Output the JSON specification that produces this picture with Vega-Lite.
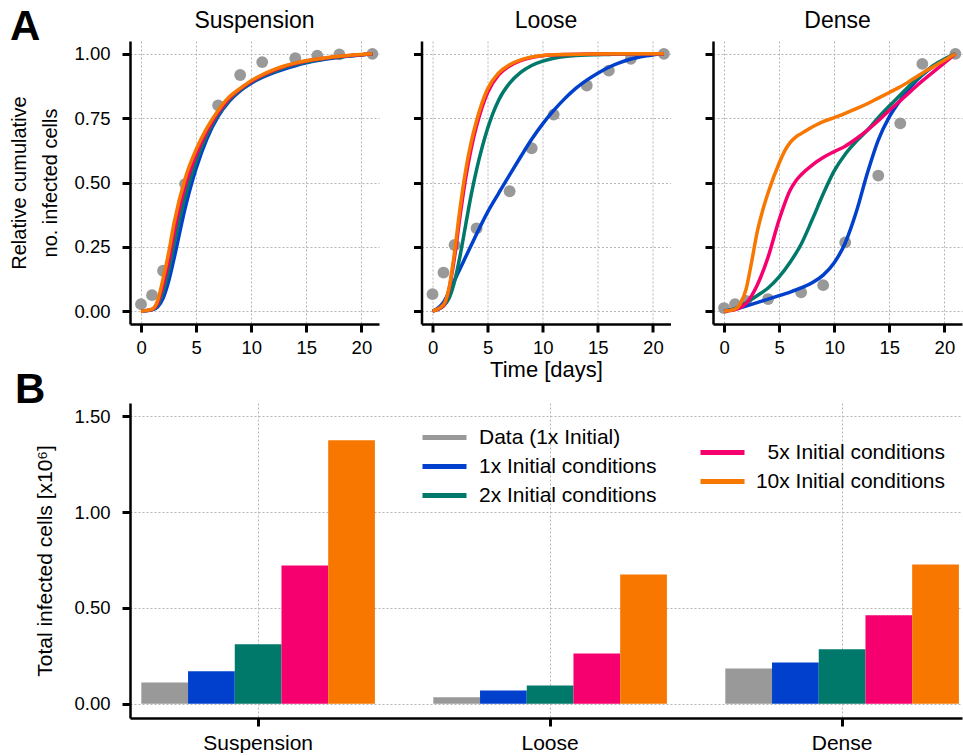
{
  "$schema": "https://vega.github.io/schema/vega-lite/v6.json",
  "padding": {"left": 9, "top": 6, "right": 0, "bottom": 0},
  "background": "white",
  "title": {"text": "A", "anchor": "start", "frame": "bounds", "fontSize": 42, "fontWeight": "bold", "baseline": "alphabetic", "offset": -72, "dx": 0},
  "spacing": -12,
  "resolve": {"scale": {"color": "independent"}, "legend": {"color": "independent"}},
  "datasets": {
    "points": [
      {"condition": "Suspension", "day": 0, "value": 0.027}, {"condition": "Suspension", "day": 1, "value": 0.062}, {"condition": "Suspension", "day": 2, "value": 0.157}, {"condition": "Suspension", "day": 4, "value": 0.494}, {"condition": "Suspension", "day": 7, "value": 0.8}, {"condition": "Suspension", "day": 9, "value": 0.918}, {"condition": "Suspension", "day": 11, "value": 0.968}, {"condition": "Suspension", "day": 14, "value": 0.983}, {"condition": "Suspension", "day": 16, "value": 0.993}, {"condition": "Suspension", "day": 18, "value": 0.998}, {"condition": "Suspension", "day": 21, "value": 1.0},
      {"condition": "Loose", "day": 0, "value": 0.066}, {"condition": "Loose", "day": 1, "value": 0.15}, {"condition": "Loose", "day": 2, "value": 0.257}, {"condition": "Loose", "day": 4, "value": 0.322}, {"condition": "Loose", "day": 7, "value": 0.466}, {"condition": "Loose", "day": 9, "value": 0.633}, {"condition": "Loose", "day": 11, "value": 0.764}, {"condition": "Loose", "day": 14, "value": 0.877}, {"condition": "Loose", "day": 16, "value": 0.935}, {"condition": "Loose", "day": 18, "value": 0.981}, {"condition": "Loose", "day": 21, "value": 1.0},
      {"condition": "Dense", "day": 0, "value": 0.012}, {"condition": "Dense", "day": 1, "value": 0.027}, {"condition": "Dense", "day": 2, "value": 0.04}, {"condition": "Dense", "day": 4, "value": 0.047}, {"condition": "Dense", "day": 7, "value": 0.073}, {"condition": "Dense", "day": 9, "value": 0.101}, {"condition": "Dense", "day": 11, "value": 0.267}, {"condition": "Dense", "day": 14, "value": 0.527}, {"condition": "Dense", "day": 16, "value": 0.73}, {"condition": "Dense", "day": 18, "value": 0.961}, {"condition": "Dense", "day": 21, "value": 1.0}
    ],
    "curves": [
      {"condition": "Suspension", "series": "1x", "day": 0, "value": 0}, {"condition": "Suspension", "series": "1x", "day": 1, "value": 0.005}, {"condition": "Suspension", "series": "1x", "day": 1.5, "value": 0.016}, {"condition": "Suspension", "series": "1x", "day": 2, "value": 0.05}, {"condition": "Suspension", "series": "1x", "day": 2.5, "value": 0.115}, {"condition": "Suspension", "series": "1x", "day": 3, "value": 0.205}, {"condition": "Suspension", "series": "1x", "day": 4, "value": 0.4}, {"condition": "Suspension", "series": "1x", "day": 5, "value": 0.555}, {"condition": "Suspension", "series": "1x", "day": 6, "value": 0.672}, {"condition": "Suspension", "series": "1x", "day": 7, "value": 0.757}, {"condition": "Suspension", "series": "1x", "day": 8, "value": 0.815}, {"condition": "Suspension", "series": "1x", "day": 9, "value": 0.856}, {"condition": "Suspension", "series": "1x", "day": 10, "value": 0.886}, {"condition": "Suspension", "series": "1x", "day": 11, "value": 0.908}, {"condition": "Suspension", "series": "1x", "day": 12, "value": 0.926}, {"condition": "Suspension", "series": "1x", "day": 13, "value": 0.941}, {"condition": "Suspension", "series": "1x", "day": 14, "value": 0.954}, {"condition": "Suspension", "series": "1x", "day": 15, "value": 0.965}, {"condition": "Suspension", "series": "1x", "day": 16, "value": 0.974}, {"condition": "Suspension", "series": "1x", "day": 17, "value": 0.981}, {"condition": "Suspension", "series": "1x", "day": 18, "value": 0.987}, {"condition": "Suspension", "series": "1x", "day": 19, "value": 0.992}, {"condition": "Suspension", "series": "1x", "day": 20, "value": 0.996}, {"condition": "Suspension", "series": "1x", "day": 21, "value": 1},
      {"condition": "Suspension", "series": "2x", "day": 0, "value": 0}, {"condition": "Suspension", "series": "2x", "day": 1, "value": 0.006}, {"condition": "Suspension", "series": "2x", "day": 1.5, "value": 0.022}, {"condition": "Suspension", "series": "2x", "day": 2, "value": 0.075}, {"condition": "Suspension", "series": "2x", "day": 2.5, "value": 0.155}, {"condition": "Suspension", "series": "2x", "day": 3, "value": 0.26}, {"condition": "Suspension", "series": "2x", "day": 4, "value": 0.445}, {"condition": "Suspension", "series": "2x", "day": 5, "value": 0.583}, {"condition": "Suspension", "series": "2x", "day": 6, "value": 0.686}, {"condition": "Suspension", "series": "2x", "day": 7, "value": 0.764}, {"condition": "Suspension", "series": "2x", "day": 8, "value": 0.82}, {"condition": "Suspension", "series": "2x", "day": 9, "value": 0.86}, {"condition": "Suspension", "series": "2x", "day": 10, "value": 0.89}, {"condition": "Suspension", "series": "2x", "day": 11, "value": 0.912}, {"condition": "Suspension", "series": "2x", "day": 12, "value": 0.93}, {"condition": "Suspension", "series": "2x", "day": 13, "value": 0.946}, {"condition": "Suspension", "series": "2x", "day": 14, "value": 0.958}, {"condition": "Suspension", "series": "2x", "day": 15, "value": 0.968}, {"condition": "Suspension", "series": "2x", "day": 16, "value": 0.976}, {"condition": "Suspension", "series": "2x", "day": 17, "value": 0.983}, {"condition": "Suspension", "series": "2x", "day": 18, "value": 0.988}, {"condition": "Suspension", "series": "2x", "day": 19, "value": 0.993}, {"condition": "Suspension", "series": "2x", "day": 20, "value": 0.997}, {"condition": "Suspension", "series": "2x", "day": 21, "value": 1},
      {"condition": "Suspension", "series": "5x", "day": 0, "value": 0}, {"condition": "Suspension", "series": "5x", "day": 1, "value": 0.007}, {"condition": "Suspension", "series": "5x", "day": 1.5, "value": 0.03}, {"condition": "Suspension", "series": "5x", "day": 2, "value": 0.1}, {"condition": "Suspension", "series": "5x", "day": 2.5, "value": 0.19}, {"condition": "Suspension", "series": "5x", "day": 3, "value": 0.305}, {"condition": "Suspension", "series": "5x", "day": 4, "value": 0.485}, {"condition": "Suspension", "series": "5x", "day": 5, "value": 0.607}, {"condition": "Suspension", "series": "5x", "day": 6, "value": 0.7}, {"condition": "Suspension", "series": "5x", "day": 7, "value": 0.772}, {"condition": "Suspension", "series": "5x", "day": 8, "value": 0.826}, {"condition": "Suspension", "series": "5x", "day": 9, "value": 0.864}, {"condition": "Suspension", "series": "5x", "day": 10, "value": 0.893}, {"condition": "Suspension", "series": "5x", "day": 11, "value": 0.916}, {"condition": "Suspension", "series": "5x", "day": 12, "value": 0.935}, {"condition": "Suspension", "series": "5x", "day": 13, "value": 0.951}, {"condition": "Suspension", "series": "5x", "day": 14, "value": 0.962}, {"condition": "Suspension", "series": "5x", "day": 15, "value": 0.972}, {"condition": "Suspension", "series": "5x", "day": 16, "value": 0.979}, {"condition": "Suspension", "series": "5x", "day": 17, "value": 0.985}, {"condition": "Suspension", "series": "5x", "day": 18, "value": 0.99}, {"condition": "Suspension", "series": "5x", "day": 19, "value": 0.994}, {"condition": "Suspension", "series": "5x", "day": 20, "value": 0.997}, {"condition": "Suspension", "series": "5x", "day": 21, "value": 1},
      {"condition": "Suspension", "series": "10x", "day": 0, "value": 0}, {"condition": "Suspension", "series": "10x", "day": 1, "value": 0.008}, {"condition": "Suspension", "series": "10x", "day": 1.5, "value": 0.04}, {"condition": "Suspension", "series": "10x", "day": 2, "value": 0.125}, {"condition": "Suspension", "series": "10x", "day": 2.5, "value": 0.225}, {"condition": "Suspension", "series": "10x", "day": 3, "value": 0.343}, {"condition": "Suspension", "series": "10x", "day": 4, "value": 0.515}, {"condition": "Suspension", "series": "10x", "day": 5, "value": 0.628}, {"condition": "Suspension", "series": "10x", "day": 6, "value": 0.713}, {"condition": "Suspension", "series": "10x", "day": 7, "value": 0.78}, {"condition": "Suspension", "series": "10x", "day": 8, "value": 0.832}, {"condition": "Suspension", "series": "10x", "day": 9, "value": 0.866}, {"condition": "Suspension", "series": "10x", "day": 10, "value": 0.896}, {"condition": "Suspension", "series": "10x", "day": 11, "value": 0.919}, {"condition": "Suspension", "series": "10x", "day": 12, "value": 0.938}, {"condition": "Suspension", "series": "10x", "day": 13, "value": 0.953}, {"condition": "Suspension", "series": "10x", "day": 14, "value": 0.964}, {"condition": "Suspension", "series": "10x", "day": 15, "value": 0.973}, {"condition": "Suspension", "series": "10x", "day": 16, "value": 0.98}, {"condition": "Suspension", "series": "10x", "day": 17, "value": 0.986}, {"condition": "Suspension", "series": "10x", "day": 18, "value": 0.991}, {"condition": "Suspension", "series": "10x", "day": 19, "value": 0.995}, {"condition": "Suspension", "series": "10x", "day": 20, "value": 0.998}, {"condition": "Suspension", "series": "10x", "day": 21, "value": 1},
      {"condition": "Loose", "series": "1x", "day": 0, "value": 0}, {"condition": "Loose", "series": "1x", "day": 1, "value": 0.035}, {"condition": "Loose", "series": "1x", "day": 1.5, "value": 0.075}, {"condition": "Loose", "series": "1x", "day": 2, "value": 0.12}, {"condition": "Loose", "series": "1x", "day": 2.5, "value": 0.165}, {"condition": "Loose", "series": "1x", "day": 3, "value": 0.21}, {"condition": "Loose", "series": "1x", "day": 3.5, "value": 0.255}, {"condition": "Loose", "series": "1x", "day": 4, "value": 0.3}, {"condition": "Loose", "series": "1x", "day": 5, "value": 0.385}, {"condition": "Loose", "series": "1x", "day": 6, "value": 0.458}, {"condition": "Loose", "series": "1x", "day": 7, "value": 0.53}, {"condition": "Loose", "series": "1x", "day": 8, "value": 0.6}, {"condition": "Loose", "series": "1x", "day": 9, "value": 0.668}, {"condition": "Loose", "series": "1x", "day": 10, "value": 0.728}, {"condition": "Loose", "series": "1x", "day": 11, "value": 0.78}, {"condition": "Loose", "series": "1x", "day": 12, "value": 0.826}, {"condition": "Loose", "series": "1x", "day": 13, "value": 0.866}, {"condition": "Loose", "series": "1x", "day": 14, "value": 0.898}, {"condition": "Loose", "series": "1x", "day": 15, "value": 0.925}, {"condition": "Loose", "series": "1x", "day": 16, "value": 0.948}, {"condition": "Loose", "series": "1x", "day": 17, "value": 0.966}, {"condition": "Loose", "series": "1x", "day": 18, "value": 0.98}, {"condition": "Loose", "series": "1x", "day": 19, "value": 0.99}, {"condition": "Loose", "series": "1x", "day": 20, "value": 0.996}, {"condition": "Loose", "series": "1x", "day": 21, "value": 1},
      {"condition": "Loose", "series": "2x", "day": 0, "value": 0}, {"condition": "Loose", "series": "2x", "day": 1, "value": 0.02}, {"condition": "Loose", "series": "2x", "day": 1.5, "value": 0.05}, {"condition": "Loose", "series": "2x", "day": 2, "value": 0.115}, {"condition": "Loose", "series": "2x", "day": 2.5, "value": 0.215}, {"condition": "Loose", "series": "2x", "day": 3, "value": 0.333}, {"condition": "Loose", "series": "2x", "day": 3.5, "value": 0.45}, {"condition": "Loose", "series": "2x", "day": 4, "value": 0.55}, {"condition": "Loose", "series": "2x", "day": 5, "value": 0.71}, {"condition": "Loose", "series": "2x", "day": 6, "value": 0.82}, {"condition": "Loose", "series": "2x", "day": 7, "value": 0.886}, {"condition": "Loose", "series": "2x", "day": 8, "value": 0.928}, {"condition": "Loose", "series": "2x", "day": 9, "value": 0.955}, {"condition": "Loose", "series": "2x", "day": 10, "value": 0.972}, {"condition": "Loose", "series": "2x", "day": 11, "value": 0.983}, {"condition": "Loose", "series": "2x", "day": 12, "value": 0.99}, {"condition": "Loose", "series": "2x", "day": 13, "value": 0.994}, {"condition": "Loose", "series": "2x", "day": 14, "value": 0.996}, {"condition": "Loose", "series": "2x", "day": 15, "value": 0.997}, {"condition": "Loose", "series": "2x", "day": 16, "value": 0.998}, {"condition": "Loose", "series": "2x", "day": 17, "value": 0.999}, {"condition": "Loose", "series": "2x", "day": 18, "value": 0.999}, {"condition": "Loose", "series": "2x", "day": 19, "value": 1}, {"condition": "Loose", "series": "2x", "day": 20, "value": 1}, {"condition": "Loose", "series": "2x", "day": 21, "value": 1},
      {"condition": "Loose", "series": "5x", "day": 0, "value": 0}, {"condition": "Loose", "series": "5x", "day": 1, "value": 0.022}, {"condition": "Loose", "series": "5x", "day": 1.5, "value": 0.085}, {"condition": "Loose", "series": "5x", "day": 2, "value": 0.21}, {"condition": "Loose", "series": "5x", "day": 2.5, "value": 0.37}, {"condition": "Loose", "series": "5x", "day": 3, "value": 0.515}, {"condition": "Loose", "series": "5x", "day": 3.5, "value": 0.63}, {"condition": "Loose", "series": "5x", "day": 4, "value": 0.72}, {"condition": "Loose", "series": "5x", "day": 5, "value": 0.85}, {"condition": "Loose", "series": "5x", "day": 6, "value": 0.918}, {"condition": "Loose", "series": "5x", "day": 7, "value": 0.953}, {"condition": "Loose", "series": "5x", "day": 8, "value": 0.974}, {"condition": "Loose", "series": "5x", "day": 9, "value": 0.986}, {"condition": "Loose", "series": "5x", "day": 10, "value": 0.993}, {"condition": "Loose", "series": "5x", "day": 11, "value": 0.996}, {"condition": "Loose", "series": "5x", "day": 12, "value": 0.998}, {"condition": "Loose", "series": "5x", "day": 14, "value": 0.999}, {"condition": "Loose", "series": "5x", "day": 17, "value": 1}, {"condition": "Loose", "series": "5x", "day": 21, "value": 1},
      {"condition": "Loose", "series": "10x", "day": 0, "value": 0}, {"condition": "Loose", "series": "10x", "day": 1, "value": 0.025}, {"condition": "Loose", "series": "10x", "day": 1.5, "value": 0.09}, {"condition": "Loose", "series": "10x", "day": 2, "value": 0.23}, {"condition": "Loose", "series": "10x", "day": 2.5, "value": 0.4}, {"condition": "Loose", "series": "10x", "day": 3, "value": 0.545}, {"condition": "Loose", "series": "10x", "day": 3.5, "value": 0.655}, {"condition": "Loose", "series": "10x", "day": 4, "value": 0.74}, {"condition": "Loose", "series": "10x", "day": 5, "value": 0.864}, {"condition": "Loose", "series": "10x", "day": 6, "value": 0.926}, {"condition": "Loose", "series": "10x", "day": 7, "value": 0.958}, {"condition": "Loose", "series": "10x", "day": 8, "value": 0.977}, {"condition": "Loose", "series": "10x", "day": 9, "value": 0.988}, {"condition": "Loose", "series": "10x", "day": 10, "value": 0.994}, {"condition": "Loose", "series": "10x", "day": 11, "value": 0.997}, {"condition": "Loose", "series": "10x", "day": 12, "value": 0.998}, {"condition": "Loose", "series": "10x", "day": 14, "value": 0.999}, {"condition": "Loose", "series": "10x", "day": 17, "value": 1}, {"condition": "Loose", "series": "10x", "day": 21, "value": 1},
      {"condition": "Dense", "series": "1x", "day": 0, "value": 0}, {"condition": "Dense", "series": "1x", "day": 1, "value": 0.008}, {"condition": "Dense", "series": "1x", "day": 2, "value": 0.02}, {"condition": "Dense", "series": "1x", "day": 3, "value": 0.033}, {"condition": "Dense", "series": "1x", "day": 4, "value": 0.047}, {"condition": "Dense", "series": "1x", "day": 5, "value": 0.06}, {"condition": "Dense", "series": "1x", "day": 6, "value": 0.074}, {"condition": "Dense", "series": "1x", "day": 7, "value": 0.09}, {"condition": "Dense", "series": "1x", "day": 8, "value": 0.11}, {"condition": "Dense", "series": "1x", "day": 9, "value": 0.14}, {"condition": "Dense", "series": "1x", "day": 10, "value": 0.188}, {"condition": "Dense", "series": "1x", "day": 11, "value": 0.265}, {"condition": "Dense", "series": "1x", "day": 12, "value": 0.385}, {"condition": "Dense", "series": "1x", "day": 13, "value": 0.535}, {"condition": "Dense", "series": "1x", "day": 14, "value": 0.665}, {"condition": "Dense", "series": "1x", "day": 15, "value": 0.755}, {"condition": "Dense", "series": "1x", "day": 16, "value": 0.82}, {"condition": "Dense", "series": "1x", "day": 17, "value": 0.875}, {"condition": "Dense", "series": "1x", "day": 18, "value": 0.918}, {"condition": "Dense", "series": "1x", "day": 19, "value": 0.952}, {"condition": "Dense", "series": "1x", "day": 20, "value": 0.978}, {"condition": "Dense", "series": "1x", "day": 21, "value": 1},
      {"condition": "Dense", "series": "2x", "day": 0, "value": 0}, {"condition": "Dense", "series": "2x", "day": 1, "value": 0.01}, {"condition": "Dense", "series": "2x", "day": 2, "value": 0.033}, {"condition": "Dense", "series": "2x", "day": 3, "value": 0.06}, {"condition": "Dense", "series": "2x", "day": 4, "value": 0.09}, {"condition": "Dense", "series": "2x", "day": 5, "value": 0.133}, {"condition": "Dense", "series": "2x", "day": 6, "value": 0.19}, {"condition": "Dense", "series": "2x", "day": 7, "value": 0.26}, {"condition": "Dense", "series": "2x", "day": 8, "value": 0.355}, {"condition": "Dense", "series": "2x", "day": 9, "value": 0.455}, {"condition": "Dense", "series": "2x", "day": 10, "value": 0.545}, {"condition": "Dense", "series": "2x", "day": 11, "value": 0.61}, {"condition": "Dense", "series": "2x", "day": 12, "value": 0.66}, {"condition": "Dense", "series": "2x", "day": 13, "value": 0.703}, {"condition": "Dense", "series": "2x", "day": 14, "value": 0.752}, {"condition": "Dense", "series": "2x", "day": 15, "value": 0.797}, {"condition": "Dense", "series": "2x", "day": 16, "value": 0.84}, {"condition": "Dense", "series": "2x", "day": 17, "value": 0.883}, {"condition": "Dense", "series": "2x", "day": 18, "value": 0.92}, {"condition": "Dense", "series": "2x", "day": 19, "value": 0.955}, {"condition": "Dense", "series": "2x", "day": 20, "value": 0.98}, {"condition": "Dense", "series": "2x", "day": 21, "value": 1},
      {"condition": "Dense", "series": "5x", "day": 0, "value": 0}, {"condition": "Dense", "series": "5x", "day": 1, "value": 0.006}, {"condition": "Dense", "series": "5x", "day": 2, "value": 0.03}, {"condition": "Dense", "series": "5x", "day": 3, "value": 0.1}, {"condition": "Dense", "series": "5x", "day": 4, "value": 0.21}, {"condition": "Dense", "series": "5x", "day": 5, "value": 0.355}, {"condition": "Dense", "series": "5x", "day": 6, "value": 0.47}, {"condition": "Dense", "series": "5x", "day": 6.5, "value": 0.505}, {"condition": "Dense", "series": "5x", "day": 7, "value": 0.53}, {"condition": "Dense", "series": "5x", "day": 8, "value": 0.568}, {"condition": "Dense", "series": "5x", "day": 9, "value": 0.597}, {"condition": "Dense", "series": "5x", "day": 10, "value": 0.62}, {"condition": "Dense", "series": "5x", "day": 11, "value": 0.641}, {"condition": "Dense", "series": "5x", "day": 12, "value": 0.67}, {"condition": "Dense", "series": "5x", "day": 13, "value": 0.703}, {"condition": "Dense", "series": "5x", "day": 14, "value": 0.74}, {"condition": "Dense", "series": "5x", "day": 15, "value": 0.78}, {"condition": "Dense", "series": "5x", "day": 16, "value": 0.818}, {"condition": "Dense", "series": "5x", "day": 17, "value": 0.857}, {"condition": "Dense", "series": "5x", "day": 18, "value": 0.895}, {"condition": "Dense", "series": "5x", "day": 19, "value": 0.93}, {"condition": "Dense", "series": "5x", "day": 20, "value": 0.965}, {"condition": "Dense", "series": "5x", "day": 21, "value": 1},
      {"condition": "Dense", "series": "10x", "day": 0, "value": 0}, {"condition": "Dense", "series": "10x", "day": 1, "value": 0.008}, {"condition": "Dense", "series": "10x", "day": 1.5, "value": 0.03}, {"condition": "Dense", "series": "10x", "day": 2, "value": 0.085}, {"condition": "Dense", "series": "10x", "day": 2.5, "value": 0.19}, {"condition": "Dense", "series": "10x", "day": 3, "value": 0.305}, {"condition": "Dense", "series": "10x", "day": 3.5, "value": 0.39}, {"condition": "Dense", "series": "10x", "day": 4, "value": 0.46}, {"condition": "Dense", "series": "10x", "day": 5, "value": 0.575}, {"condition": "Dense", "series": "10x", "day": 5.5, "value": 0.622}, {"condition": "Dense", "series": "10x", "day": 6, "value": 0.655}, {"condition": "Dense", "series": "10x", "day": 6.5, "value": 0.676}, {"condition": "Dense", "series": "10x", "day": 7, "value": 0.69}, {"condition": "Dense", "series": "10x", "day": 8, "value": 0.716}, {"condition": "Dense", "series": "10x", "day": 9, "value": 0.737}, {"condition": "Dense", "series": "10x", "day": 10, "value": 0.752}, {"condition": "Dense", "series": "10x", "day": 11, "value": 0.769}, {"condition": "Dense", "series": "10x", "day": 12, "value": 0.787}, {"condition": "Dense", "series": "10x", "day": 13, "value": 0.806}, {"condition": "Dense", "series": "10x", "day": 14, "value": 0.828}, {"condition": "Dense", "series": "10x", "day": 15, "value": 0.85}, {"condition": "Dense", "series": "10x", "day": 16, "value": 0.872}, {"condition": "Dense", "series": "10x", "day": 17, "value": 0.898}, {"condition": "Dense", "series": "10x", "day": 18, "value": 0.925}, {"condition": "Dense", "series": "10x", "day": 19, "value": 0.95}, {"condition": "Dense", "series": "10x", "day": 20, "value": 0.975}, {"condition": "Dense", "series": "10x", "day": 21, "value": 1}
    ],
    "totals": [
      {"condition": "Suspension", "series": "Data (1x Initial)", "total": 0.111}, {"condition": "Suspension", "series": "1x Initial conditions", "total": 0.169}, {"condition": "Suspension", "series": "2x Initial conditions", "total": 0.31}, {"condition": "Suspension", "series": "5x Initial conditions", "total": 0.722}, {"condition": "Suspension", "series": "10x Initial conditions", "total": 1.375},
      {"condition": "Loose", "series": "Data (1x Initial)", "total": 0.033}, {"condition": "Loose", "series": "1x Initial conditions", "total": 0.069}, {"condition": "Loose", "series": "2x Initial conditions", "total": 0.095}, {"condition": "Loose", "series": "5x Initial conditions", "total": 0.262}, {"condition": "Loose", "series": "10x Initial conditions", "total": 0.675},
      {"condition": "Dense", "series": "Data (1x Initial)", "total": 0.184}, {"condition": "Dense", "series": "1x Initial conditions", "total": 0.215}, {"condition": "Dense", "series": "2x Initial conditions", "total": 0.284}, {"condition": "Dense", "series": "5x Initial conditions", "total": 0.461}, {"condition": "Dense", "series": "10x Initial conditions", "total": 0.727}
    ]
  },
  "vconcat": [
    {
      "spacing": 31.5,
      "resolve": {"scale": {"color": "independent"}, "legend": {"color": "independent"}},
      "hconcat": [
        {
          "title": "Suspension",
          "width": 249, "height": 283,
          "encoding": {
            "x": {"field": "day", "type": "quantitative", "scale": {"domain": [-1, 21.6], "nice": false, "zero": false}, "axis": {"values": [0, 5, 10, 15, 20], "title": null}},
            "y": {"field": "value", "type": "quantitative", "scale": {"domain": [-0.05, 1.05], "nice": false, "zero": false}, "axis": {"values": [0, 0.25, 0.5, 0.75, 1], "format": ".2f", "title": ["Relative cumulative", "no. infected cells"], "titleFontSize": 20, "titleLineHeight": 31, "titlePadding": 13}}
          },
          "layer": [
            {"data": {"name": "points"}, "transform": [{"filter": "datum.condition === 'Suspension'"}], "mark": {"type": "circle", "size": 140, "color": "#999999", "opacity": 1}},
            {"data": {"name": "curves"}, "transform": [{"filter": "datum.condition === 'Suspension'"}], "mark": {"type": "line", "strokeWidth": 3.5, "interpolate": "monotone"},
             "encoding": {"color": {"field": "series", "type": "nominal", "scale": {"domain": ["1x", "2x", "5x", "10x"], "range": ["#0040cc", "#00796b", "#f5006e", "#f77700"]}, "legend": null}}}
          ]
        },
        {
          "title": "Loose",
          "width": 249, "height": 283,
          "encoding": {
            "x": {"field": "day", "type": "quantitative", "scale": {"domain": [-1, 21.6], "nice": false, "zero": false}, "axis": {"values": [0, 5, 10, 15, 20], "title": "Time [days]", "titleFontSize": 22, "titlePadding": 3}},
            "y": {"field": "value", "type": "quantitative", "scale": {"domain": [-0.05, 1.05], "nice": false, "zero": false}, "axis": {"values": [0, 0.25, 0.5, 0.75, 1], "labels": false, "title": null}}
          },
          "layer": [
            {"data": {"name": "points"}, "transform": [{"filter": "datum.condition === 'Loose'"}], "mark": {"type": "circle", "size": 140, "color": "#999999", "opacity": 1}},
            {"data": {"name": "curves"}, "transform": [{"filter": "datum.condition === 'Loose'"}], "mark": {"type": "line", "strokeWidth": 3.5, "interpolate": "monotone"},
             "encoding": {"color": {"field": "series", "type": "nominal", "scale": {"domain": ["1x", "2x", "5x", "10x"], "range": ["#0040cc", "#00796b", "#f5006e", "#f77700"]}, "legend": null}}}
          ]
        },
        {
          "title": "Dense",
          "width": 249, "height": 283,
          "encoding": {
            "x": {"field": "day", "type": "quantitative", "scale": {"domain": [-1, 21.6], "nice": false, "zero": false}, "axis": {"values": [0, 5, 10, 15, 20], "title": null}},
            "y": {"field": "value", "type": "quantitative", "scale": {"domain": [-0.05, 1.05], "nice": false, "zero": false}, "axis": {"values": [0, 0.25, 0.5, 0.75, 1], "labels": false, "title": null}}
          },
          "layer": [
            {"data": {"name": "points"}, "transform": [{"filter": "datum.condition === 'Dense'"}], "mark": {"type": "circle", "size": 140, "color": "#999999", "opacity": 1}},
            {"data": {"name": "curves"}, "transform": [{"filter": "datum.condition === 'Dense'"}], "mark": {"type": "line", "strokeWidth": 3.5, "interpolate": "monotone"},
             "encoding": {"color": {"field": "series", "type": "nominal", "scale": {"domain": ["1x", "2x", "5x", "10x"], "range": ["#0040cc", "#00796b", "#f5006e", "#f77700"]}, "legend": null}}}
          ]
        }
      ]
    },
    {
      "title": {"text": "B", "anchor": "start", "frame": "bounds", "fontSize": 42, "fontWeight": "bold", "baseline": "alphabetic", "offset": -42, "dx": -20},
      "width": 832, "height": 315,
      "data": {"name": "totals"},
      "encoding": {
        "x": {"field": "condition", "type": "nominal", "sort": ["Suspension", "Loose", "Dense"], "scale": {"paddingInner": 0.2, "paddingOuter": 0.0247, "align": 0.785}, "axis": {"title": null, "labelAngle": 0, "labelFontSize": 21, "labelPadding": 6, "bandPosition": 0.5, "grid": true}},
        "xOffset": {"field": "series", "type": "nominal", "scale": {"domain": ["Data (1x Initial)", "1x Initial conditions", "2x Initial conditions", "5x Initial conditions", "10x Initial conditions"], "paddingInner": 0, "paddingOuter": 0}},
        "y": {"field": "total", "type": "quantitative", "scale": {"domain": [-0.075, 1.57], "nice": false, "zero": false}, "axis": {"values": [0, 0.5, 1, 1.5], "format": ".2f", "title": "Total infected cells [x10⁶]", "titleFontSize": 21, "titlePadding": 18}}
      },
      "layer": [
        {"transform": [{"filter": "datum.series === 'Data (1x Initial)' || datum.series === '1x Initial conditions' || datum.series === '2x Initial conditions'"}],
         "mark": {"type": "bar"},
         "encoding": {"color": {"field": "series", "type": "nominal", "scale": {"domain": ["Data (1x Initial)", "1x Initial conditions", "2x Initial conditions"], "range": ["#999999", "#0040cc", "#00796b"]},
           "legend": {"orient": "none", "legendX": 304, "legendY": 24, "title": null, "labelOffset": 24}}}},
        {"transform": [{"filter": "datum.series === '5x Initial conditions' || datum.series === '10x Initial conditions'"}],
         "mark": {"type": "bar"},
         "encoding": {"color": {"field": "series", "type": "nominal", "scale": {"domain": ["5x Initial conditions", "10x Initial conditions"], "range": ["#f5006e", "#f77700"]},
           "legend": {"orient": "none", "legendX": 582, "legendY": 39, "title": null, "labelAlign": "right", "labelOffset": 212}}}}
      ],
      "resolve": {"scale": {"color": "independent"}, "legend": {"color": "independent"}}
    }
  ],
  "config": {
    "font": "Liberation Sans",
    "view": {"stroke": null},
    "axis": {"domainColor": "#000000", "domainWidth": 2.5, "tickColor": "#000000", "tickWidth": 3, "tickSize": 8, "labelFontSize": 18.5, "labelColor": "#000000", "labelFont": "Liberation Sans", "labelPadding": 6, "titleFont": "Liberation Sans", "titleFontSize": 20, "titleFontWeight": "normal", "titleColor": "#000000", "grid": true, "gridColor": "#b5b5b5", "gridDash": [2, 2], "gridWidth": 1},
    "axisY": {"labelPadding": 12},
    "title": {"font": "Liberation Sans", "fontSize": 23, "fontWeight": "normal", "color": "#000000", "offset": 8},
    "legend": {"labelFont": "Liberation Sans", "labelFontSize": 21, "labelColor": "#000000", "labelLimit": 0, "symbolType": "M-2.2,-0.25H2.2V0.25H-2.2Z", "symbolSize": 400, "symbolStrokeWidth": 0, "symbolOpacity": 1, "rowPadding": 7, "padding": 0}
  }
}
